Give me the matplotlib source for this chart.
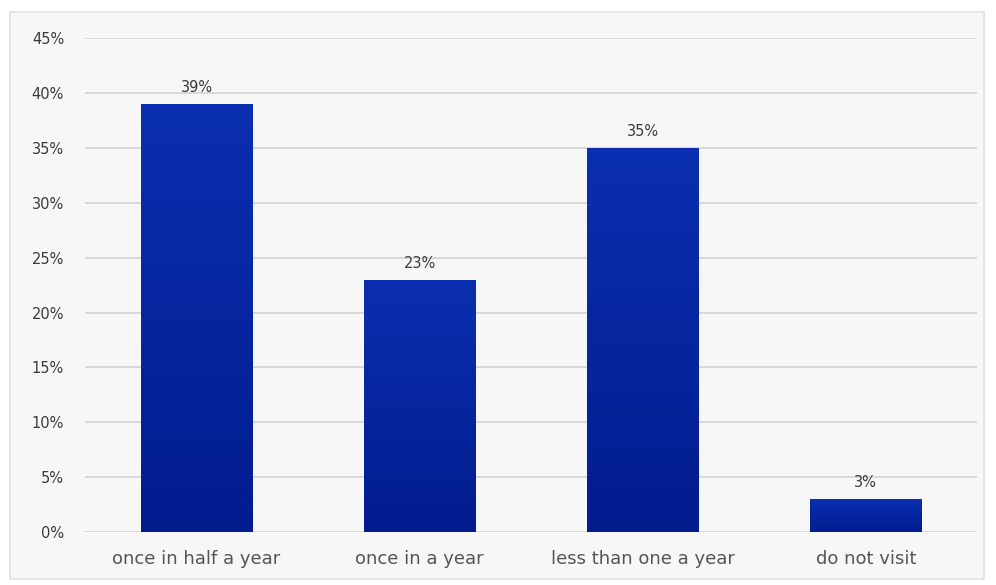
import numpy as np
import matplotlib.pyplot as plt
from matplotlib.patches import Rectangle
from matplotlib.colors import LinearSegmentedColormap

categories = ['once in half a year', 'once in a year', 'less than one a year', 'do not visit']
values = [39, 23, 35, 3]
yticks = [0, 5, 10, 15, 20, 25, 30, 35, 40, 45]

fig = plt.figure(figsize=(9.96, 5.85), dpi=100)
fig.patch.set_facecolor('white')

# light panel behind the chart
panel = Rectangle((0.010, 0.010), 0.978, 0.970, transform=fig.transFigure,
                  facecolor='#f7f7f7', edgecolor='#e2e2e2', linewidth=1.2, zorder=-10)
fig.patches.append(panel)

ax = fig.add_axes([0.0853, 0.0906, 0.896, 0.844])
ax.set_facecolor('none')

x = np.arange(len(categories))
bars = ax.bar(x, values, width=0.5, color='#0a2aa8', zorder=3)

# vertical gradient inside each bar
cmap = LinearSegmentedColormap.from_list('blu', ['#021c8e', '#0a2fb0'])
grad = np.linspace(0, 1, 256).reshape(-1, 1)
for b in bars:
    x0, y0 = b.get_x(), b.get_y()
    w, h = b.get_width(), b.get_height()
    im = ax.imshow(grad, cmap=cmap, origin='lower', aspect='auto',
                   extent=[x0, x0 + w, y0, y0 + h], zorder=4)
    im.set_clip_path(b)

for xi, v in zip(x, values):
    ax.text(xi, v + 0.8, f'{v}%', ha='center', va='bottom',
            fontsize=10.5, color='#3a3a3a', zorder=5)

ax.set_xlim(-0.5, 3.5)
ax.set_ylim(0, 45)
ax.set_yticks(yticks)
ax.set_yticklabels([f'{t}%' for t in yticks], fontsize=10.5, color='#3a3a3a')
ax.set_xticks(x)
ax.set_xticklabels(categories, fontsize=13, color='#555555')
ax.tick_params(axis='both', length=0)
ax.tick_params(axis='y', pad=15)
ax.tick_params(axis='x', pad=13)

ax.grid(axis='y', color='#d8d8d8', linewidth=1.4, zorder=0)
for s in ax.spines.values():
    s.set_visible(False)

plt.savefig('out.png', dpi=100)
